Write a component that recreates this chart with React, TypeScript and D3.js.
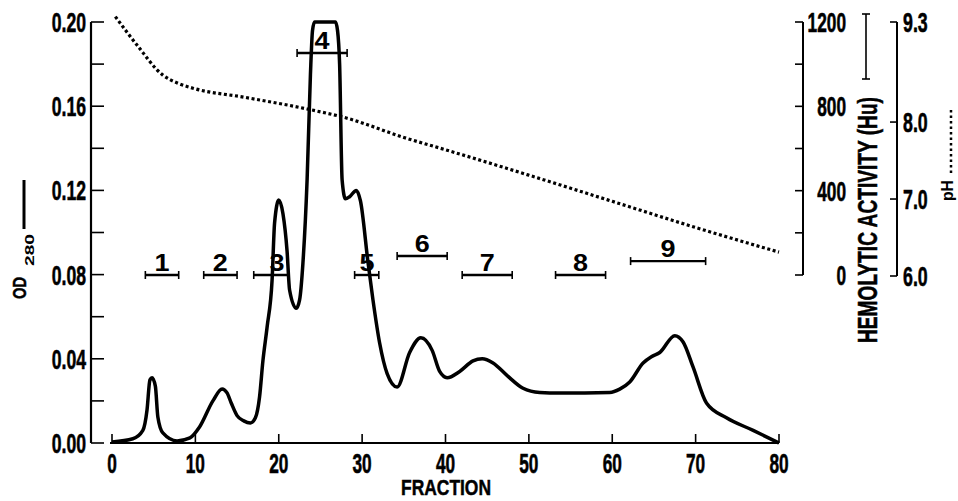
import React from "react";
import * as d3 from "d3";

// OD280 elution profile (fraction number, absorbance)
const fraction = [0, 2.5, 3.7, 4.2, 4.55, 4.8, 5.2, 5.5, 6.1, 7.8, 9.35, 10.5, 12.1, 13.2, 13.8, 14.3, 15.0, 15.8, 16.6, 17.2, 17.7, 18.1, 18.6, 19.2, 19.5, 20.0, 20.5, 21.0, 21.3, 22.1, 22.5, 22.9, 23.4, 23.8, 24.05, 24.3, 26.8, 27.05, 27.3, 27.6, 28.0, 28.5, 29.3, 29.8, 30.7, 31.3, 32.1, 33.0, 34.2, 35.7, 37.05, 38.4, 39.3, 40.2, 41.7, 43.3, 44.4, 45.7, 47.4, 49.3, 51.3, 53.7, 59.7, 60.9, 62.1, 63.7, 64.7, 65.7, 67.5, 68.5, 69.7, 71.3, 73.7, 76.9, 80]
const od = [0.0005, 0.002, 0.006, 0.0157, 0.03, 0.031, 0.027, 0.0124, 0.0048, 0.001, 0.0024, 0.0076, 0.02, 0.0257, 0.0238, 0.019, 0.013, 0.0105, 0.0095, 0.012, 0.022, 0.039, 0.055, 0.0774, 0.1045, 0.1154, 0.109, 0.091, 0.0727, 0.064, 0.068, 0.0855, 0.125, 0.175, 0.196, 0.2, 0.2, 0.196, 0.18, 0.125, 0.116, 0.117, 0.12, 0.115, 0.086, 0.068, 0.0475, 0.033, 0.0266, 0.043, 0.05, 0.044, 0.034, 0.031, 0.034, 0.039, 0.04, 0.038, 0.032, 0.026, 0.024, 0.0237, 0.024, 0.0256, 0.029, 0.038, 0.041, 0.043, 0.051, 0.048, 0.036, 0.019, 0.012, 0.006, 0]

// pH gradient
const phFraction = [0.4, 3, 6.1, 8, 9.7, 16, 23.4, 28.2, 35, 40, 50, 60, 70, 80]
const phValue = [9.37, 9.0, 8.61, 8.5, 8.44, 8.32, 8.17, 8.05, 7.8, 7.64, 7.31, 6.97, 6.63, 6.31]

// hemolytic activity pools
const poolLabel = ["1", "2", "3", "4", "5", "6", "7", "8", "9"]
const poolStart = [4, 11, 17, 22.2, 29.1, 34.2, 42, 53.2, 62.2]
const poolEnd = [8, 15, 21.2, 28.2, 32, 40.2, 48, 59.2, 71.2]
const poolHu = [0, 0, 0, 1053, 0, 90, 0, 0, 66]
const poolLabelAt = [6, 13, 19.8, 25.2, 30.6, 37.2, 45, 56.2, 66.7]

const odTicks = [0, 0.04, 0.08, 0.12, 0.16, 0.2]
const odMinor = [0.02, 0.06, 0.1, 0.14, 0.18]
const fracTicks = [0, 10, 20, 30, 40, 50, 60, 70, 80]
const huTicks = [0, 400, 800, 1200]
const huMinor = [200, 600, 1000]
const phTicks = [6.0, 7.0, 8.0, 9.3]

const FONT = "'Liberation Sans', Arial, sans-serif"

function numLen(s: string) {
    let n = 0
    for (const c of s) n += c === "." ? 5.5 : 9.6
    return n
}

function Num({x, y, t, anchor}: {x: number, y: number, t: string, anchor: string}) {
    return <text x={x} y={y} textAnchor={anchor} fontSize={28} fontWeight="bold" fontFamily={FONT}
        stroke="#000" strokeWidth={0.6}
        textLength={numLen(t)} lengthAdjust="spacingAndGlyphs">{t}</text>
}

export default function App() {
    const x = d3.scaleLinear().domain([0, 80]).range([112, 779])
    const yOD = d3.scaleLinear().domain([0, 0.2]).range([443, 22])
    const yHU = d3.scaleLinear().domain([0, 1200]).range([275, 22])
    const yPH = d3.scaleLinear().domain([6, 9.3]).range([276, 22])

    const odLine = d3.line<number>()
        .x((d, i) => x(fraction[i]))
        .y(d => yOD(d))
        .curve(d3.curveMonotoneX)
    const phLine = d3.line<number>()
        .x((d, i) => x(phFraction[i]))
        .y(d => yPH(d))
        .curve(d3.curveMonotoneX)

    const axisX = 91, huX = 803, phX = 897

    return <svg width={958} height={501} style={{position: "absolute", left: 0, top: 0, background: "#fff"}}>
        {/* left OD axis */}
        <line x1={axisX} y1={yOD(0.2)} x2={axisX} y2={yOD(0)} stroke="#000" strokeWidth={2.2} />
        {odTicks.concat(odMinor).map(v =>
            <line key={"ot" + v} x1={axisX} x2={axisX + 13} y1={yOD(v)} y2={yOD(v)} stroke="#000" strokeWidth={1.6} />)}
        {odTicks.map(v => <Num key={"ol" + v} x={86} y={yOD(v) + 10} t={v.toFixed(2)} anchor="end" />)}

        {/* OD label */}
        <text transform="translate(26,299) rotate(-90)" fontSize={18} fontWeight="bold" fontFamily={FONT}
            stroke="#000" strokeWidth={0.5} textLength={22} lengthAdjust="spacingAndGlyphs">OD</text>
        <text transform="translate(34,266) rotate(-90)" fontSize={13} fontWeight="bold" fontFamily={FONT}
            textLength={32} lengthAdjust="spacingAndGlyphs">280</text>
        <line x1={24} x2={24} y1={180} y2={229} stroke="#000" strokeWidth={3} />

        {/* bottom axis */}
        <line x1={x(0) - 2} x2={x(80)} y1={yOD(0)} y2={yOD(0)} stroke="#000" strokeWidth={2.2} />
        {fracTicks.map(v =>
            <line key={"ft" + v} x1={x(v)} x2={x(v)} y1={yOD(0)} y2={yOD(0) - 9} stroke="#000" strokeWidth={1.6} />)}
        {fracTicks.map(v => <Num key={"fl" + v} x={x(v)} y={473} t={String(v)} anchor="middle" />)}
        <text x={446} y={495} textAnchor="middle" fontSize={22} fontWeight="bold" fontFamily={FONT}
            stroke="#000" strokeWidth={0.5} textLength={90} lengthAdjust="spacingAndGlyphs">FRACTION</text>

        {/* hemolytic activity axis */}
        <line x1={huX} x2={huX} y1={yHU(1200)} y2={yHU(0)} stroke="#000" strokeWidth={2} />
        {huTicks.concat(huMinor).map(v =>
            <line key={"ht" + v} x1={huX} x2={huX - 8} y1={yHU(v)} y2={yHU(v)} stroke="#000" strokeWidth={1.6} />)}
        {huTicks.map(v => <Num key={"hl" + v} x={846} y={yHU(v) + 10} t={String(v)} anchor="end" />)}
        <text transform="translate(877,220) rotate(-90)" textAnchor="middle" fontSize={27} fontWeight="bold"
            fontFamily={FONT} stroke="#000" strokeWidth={0.5}
            textLength={246} lengthAdjust="spacingAndGlyphs">HEMOLYTIC ACTIVITY (Hu)</text>
        <line x1={866} x2={866} y1={14} y2={79} stroke="#000" strokeWidth={1.6} />
        <line x1={862} x2={870} y1={14} y2={14} stroke="#000" strokeWidth={1.6} />
        <line x1={862} x2={870} y1={79} y2={79} stroke="#000" strokeWidth={1.6} />

        {/* pH axis */}
        <line x1={phX} x2={phX} y1={yPH(9.3)} y2={yPH(6)} stroke="#000" strokeWidth={2} />
        {phTicks.map(v =>
            <line key={"pt" + v} x1={phX} x2={phX - 7} y1={yPH(v)} y2={yPH(v)} stroke="#000" strokeWidth={1.6} />)}
        {phTicks.map(v => <Num key={"pl" + v} x={903} y={yPH(v) + 10} t={v.toFixed(1)} anchor="start" />)}
        <text transform="translate(953,201) rotate(-90)" fontSize={17} fontWeight="bold" fontFamily={FONT}
            textLength={21} lengthAdjust="spacingAndGlyphs">pH</text>
        <line x1={951} x2={951} y1={110} y2={176} stroke="#000" strokeWidth={2.5} strokeDasharray="2.5 3" />

        {/* curves */}
        <path d={phLine(phValue) || ""} fill="none" stroke="#000" strokeWidth={3.2} strokeDasharray="3 2.6" />
        <path d={odLine(od) || ""} fill="none" stroke="#000" strokeWidth={3.5} strokeLinejoin="round" />

        {/* activity pools */}
        {poolLabel.map((lab, i) => {
            const yy = yHU(poolHu[i])
            return <g key={"pool" + lab}>
                <line x1={x(poolStart[i])} x2={x(poolEnd[i])} y1={yy} y2={yy} stroke="#000" strokeWidth={2.4} />
                <line x1={x(poolStart[i])} x2={x(poolStart[i])} y1={yy - 4} y2={yy + 4} stroke="#000" strokeWidth={1.6} />
                <line x1={x(poolEnd[i])} x2={x(poolEnd[i])} y1={yy - 4} y2={yy + 4} stroke="#000" strokeWidth={1.6} />
                <text x={x(poolLabelAt[i])} y={yy - 4} textAnchor="middle" fontSize={23} fontWeight="bold"
                    fontFamily={FONT} textLength={15} lengthAdjust="spacingAndGlyphs">{lab}</text>
            </g>
        })}
    </svg>
}
